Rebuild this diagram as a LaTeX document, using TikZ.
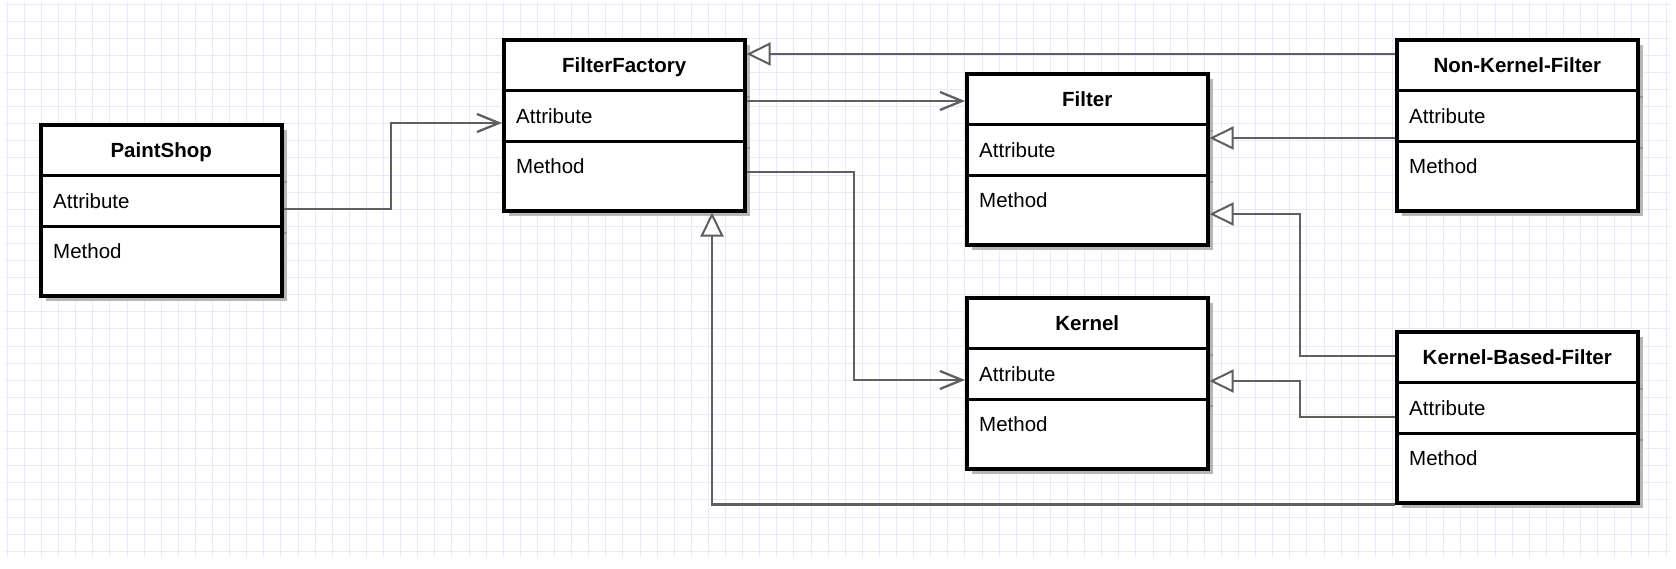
\documentclass[tikz,border=0pt]{standalone}
\usepackage{fontspec}
\setmainfont{Liberation Sans}
\usetikzlibrary{arrows.meta}
\definecolor{gridc}{RGB}{232,232,250}
\definecolor{connc}{RGB}{95,95,95}
\definecolor{shadc}{RGB}{182,182,182}
\definecolor{shadline}{RGB}{150,150,150}
\tikzset{
 classbox/.style={draw=black, line width=3.5pt, fill=white, rectangle, minimum width=241pt, minimum height=171pt, inner sep=0pt, anchor=north west},
 divider/.style={draw=black, line width=3pt},
 connline/.style={draw=connc, line width=2.5pt},
 assoc/.style={connline, -{Straight Barb[length=22pt,width=18pt,line width=2.3pt]}},
 inherit/.style={connline, -{Triangle[open,length=24pt,width=23pt,line width=2pt,fill=white]}},
 titletext/.style={anchor=base, font=\fontsize{20.5}{24}\selectfont\bfseries, inner sep=0pt},
 membertext/.style={anchor=base west, font=\fontsize{20.5}{24}\selectfont, inner sep=0pt},
 gridline/.style={draw=gridc, line width=1pt},
}
\newcommand{\umlclass}[4]{%
  \fill[shadc] (#2+7,#3+7) rectangle (#2+248,#3+178);
  \draw[shadline, line width=2pt] (#2+241,#3+59) -- (#2+248,#3+59);
  \draw[shadline, line width=2pt] (#2+241,#3+110) -- (#2+248,#3+110);
  \node[classbox] (#1) at (#2,#3) {};
  \draw[divider] ([yshift=-52pt]#1.north west) -- ([yshift=-52pt]#1.north east);
  \draw[divider] ([yshift=-103pt]#1.north west) -- ([yshift=-103pt]#1.north east);
  \node[titletext] (#1-t) at ([yshift=-34pt]#1.north) {#4};
  \node[membertext] (#1-a) at ([xshift=14pt,yshift=-85pt]#1.north west) {Attribute};
  \node[membertext] (#1-m) at ([xshift=14pt,yshift=-135.5pt]#1.north west) {Method};
}
\begin{document}
\begin{tikzpicture}[x=1pt,y=-1pt]
\useasboundingbox (0,0) rectangle (1676,568);
\fill[white] (0,0) rectangle (1676,568);
\foreach \i in {0,...,97} \draw[gridline] (7.3+17.1*\i,2) -- (7.3+17.1*\i,557);
\foreach \j in {0,...,32} \draw[gridline] (5,4+17.1*\j) -- (1670,4+17.1*\j);

\umlclass{ps}{39}{123}{PaintShop}
\umlclass{ff}{502}{38}{FilterFactory}
\umlclass{filter}{965}{72}{Filter}
\umlclass{kernel}{965}{296}{Kernel}
\umlclass{nkf}{1395}{38}{Non-Kernel-Filter}
\umlclass{kbf}{1395}{330}{Kernel-Based-Filter}

\draw[assoc] (ps.east |- 0,209) -| (391,123) -- (ff.west |- 0,123);
\draw[assoc] (ff.east |- 0,101) -- (filter.west |- 0,101);
\draw[assoc] (ff.east |- 0,172) -| (854,380) -- (kernel.west |- 0,380);
\draw[inherit] (nkf.west |- 0,54) -- (ff.east |- 0,54);
\draw[inherit] (nkf.west |- 0,138) -- (filter.east |- 0,138);
\draw[inherit] (kbf.west |- 0,356) -| (1300,214) -- (filter.east |- 0,214);
\draw[inherit] (kbf.west |- 0,417) -| (1300,381) -- (kernel.east |- 0,381);
\draw[inherit] (kbf.south west) -| (712,0 |- ff.south);
\end{tikzpicture}
\end{document}
